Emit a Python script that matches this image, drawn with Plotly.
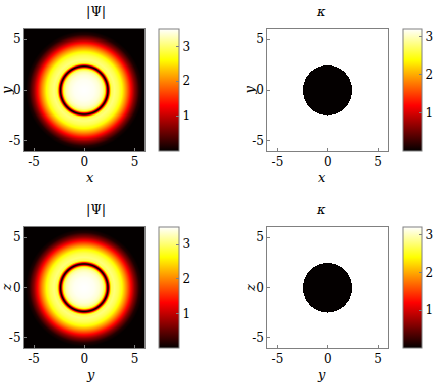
import numpy as np
import plotly.graph_objects as go

W, H = 436, 385

# ---- data ----
axis_range = [-6, 6]
tick_vals = [-5, 0, 5]
cbar_ticks = [1, 2, 3]

# radial profile of |Psi| (radius, value)
psi_r = [0.0, 0.5, 1.0, 1.5, 1.8, 2.0, 2.12, 2.22, 2.3, 2.35, 2.4, 2.48, 2.58, 2.7, 3.0, 3.4, 3.75, 4.2, 4.65, 5.0, 5.45, 5.8, 9.0]
psi_v = [3.5, 3.48, 3.45, 3.35, 3.2, 2.9, 2.3, 1.2, 0.3, 0.0, 0.3, 1.2, 2.3, 2.9, 3.05, 2.9, 2.63, 2.0, 1.3, 0.7, 0.15, 0.0, 0.0]
psi_max = 3.5

# kappa: disk of value kappa_in, surrounded by kappa_out
kappa_radius = 2.45
kappa_in = 0.0
kappa_out = 3.2

panel_titles = ["|Ψ|", "<i>κ</i>", "|Ψ|", "<i>κ</i>"]
x_labels = ["x", "x", "y", "y"]
y_labels = ["y", "y", "z", "z"]

# ---- grids ----
g = np.linspace(axis_range[0], axis_range[1], 241)
X, Y = np.meshgrid(g, g)
R = np.sqrt(X**2 + Y**2)
psi = np.interp(R, psi_r, psi_v)
kap = np.where(R < kappa_radius, kappa_in, kappa_out)

hot = [[0.0, "rgb(4,0,0)"], [0.375, "rgb(255,0,0)"], [0.75, "rgb(255,255,0)"], [1.0, "rgb(255,255,255)"]]

# panel pixel boxes (left, top, right, bottom)
boxes = [(24, 29, 145, 151), (268, 29, 389, 151), (24, 227, 145, 348), (268, 227, 389, 348)]
cbars = [(159, 179, psi_max), (403, 422, kappa_out), (159, 179, psi_max), (403, 422, kappa_out)]
fields = [psi, kap, psi, kap]

def px(x):
    return x / W

def py(y):
    return 1 - y / H

fig = go.Figure()
font = "DejaVu Serif"
layout = dict(width=W, height=H, margin=dict(l=0, r=0, t=0, b=0),
              paper_bgcolor="white", plot_bgcolor="white", showlegend=False)
annotations = []
for i, (box, cb, z) in enumerate(zip(boxes, cbars, fields)):
    l, t, r, b = box
    n = "" if i == 0 else str(i + 1)
    xa = dict(domain=[px(l), px(r)], range=axis_range, tickvals=tick_vals,
              ticktext=[str(v) if v >= 0 else "-" + str(-v) for v in tick_vals],
              showline=True, mirror=True, linecolor="#808080", linewidth=1,
              ticks="inside", ticklen=3, tickcolor="#808080", showgrid=False, zeroline=False,
              tickfont=dict(family=font, size=12, color="black"), anchor="y" + n)
    ya = dict(domain=[py(b), py(t)], range=axis_range, tickvals=tick_vals,
              ticktext=[str(v) if v >= 0 else "-" + str(-v) for v in tick_vals],
              showline=True, mirror=True, linecolor="#808080", linewidth=1,
              ticks="inside", ticklen=3, tickcolor="#808080", showgrid=False, zeroline=False,
              tickfont=dict(family=font, size=12, color="black"), anchor="x" + n)
    layout["xaxis" + n] = xa
    layout["yaxis" + n] = ya
    c0, c1, zmax = cb
    fig.add_trace(go.Heatmap(
        x=g, y=g, z=z, zmin=0, zmax=zmax, colorscale=hot,
        xaxis="x" + n, yaxis="y" + n, hoverinfo="skip",
        colorbar=dict(x=px(c0), xanchor="left", xpad=0, ypad=0,
                      y=py((t + b) / 2), yanchor="middle", len=(b - t) / H, lenmode="fraction",
                      thickness=c1 - c0, thicknessmode="pixels",
                      outlinecolor="#808080", outlinewidth=1,
                      tickvals=cbar_ticks, ticks="inside", ticklen=3, tickcolor="#808080",
                      tickfont=dict(family=font, size=12, color="black"))))
    cx = (l + r) / 2
    annotations.append(dict(x=px(cx), y=py(t - 8), xref="paper", yref="paper",
                            text=panel_titles[i], showarrow=False, yanchor="bottom",
                            font=dict(family=font, size=13, color="black")))
    annotations.append(dict(x=px(cx), y=py(b + 26), xref="paper", yref="paper",
                            text="<i>" + x_labels[i] + "</i>", showarrow=False, yanchor="middle",
                            font=dict(family=font, size=13, color="black")))
    annotations.append(dict(x=px(l - 17), y=py((t + b) / 2), xref="paper", yref="paper",
                            text="<i>" + y_labels[i] + "</i>", showarrow=False, textangle=-90,
                            xanchor="center", yanchor="middle",
                            font=dict(family=font, size=13, color="black")))

layout["annotations"] = annotations
fig.update_layout(**layout)
fig.write_html("out.html", config={"displayModeBar": False},
               post_script="document.body.style.margin='0';document.body.style.overflow='hidden';")
